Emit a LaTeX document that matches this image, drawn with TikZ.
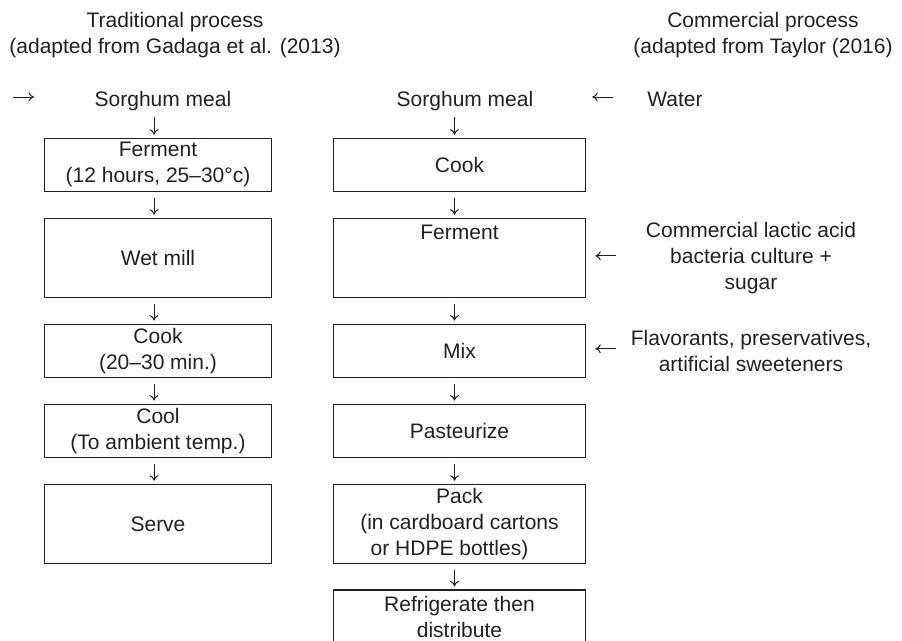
\documentclass[tikz,border=0pt]{standalone}
\usepackage{fontspec}
\setmainfont{Liberation Sans}
\usetikzlibrary{arrows.meta,calc}
\definecolor{ink}{RGB}{35,31,32}
\begin{document}
\begin{tikzpicture}[x=1pt,y=-1pt,
  every node/.style={font=\fontsize{21}{26}\selectfont, text=ink, inner sep=0pt, align=center},
  procbox/.style={draw=ink, line width=1.2pt, minimum height=53pt},
  tallbox/.style={procbox, minimum height=79pt},
  lcol/.style={minimum width=227.4pt},
  rcol/.style={minimum width=252.4pt},
  arr/.style={-{Computer Modern Rightarrow[length=5.5pt,width=9pt]}, line width=1pt, draw=ink}]
\useasboundingbox (0,0) rectangle (902,640);

% headers
\node (hdrL) at (175,35) {Traditional process\\(adapted from Gadaga et al. (2013)};
\node (hdrR) at (763,35) {Commercial process\\(adapted from Taylor (2016)};

% inputs
\node[anchor=base] (sorgL) at (163,106) {Sorghum meal};
\node[anchor=base] (sorgR) at (465,106) {Sorghum meal};
\node[anchor=base] (water) at (675,106) {Water};

% traditional column
\node[procbox,lcol] (fermL) at (158,164.8) {Ferment\\(12 hours, 25–30°c)};
\node[tallbox,lcol] (millL) at (158,257.8) {Wet mill};
\node[procbox,lcol] (cookL) at (158,350.7) {Cook\\(20–30 min.)};
\node[procbox,lcol] (coolL) at (158,430.7) {Cool\\(To ambient temp.)};
\node[tallbox,lcol] (serveL) at (158,523.8) {Serve};

% commercial column
\node[procbox,rcol] (cookR) at (459.5,164.8) {Cook};
\node[tallbox,rcol] (fermR) at (459.5,257.8) {Ferment\\~\\~};
\node[procbox,rcol] (mixR) at (459.5,350.7) {Mix};
\node[procbox,rcol] (pastR) at (459.5,430.7) {Pasteurize};
\node[tallbox,rcol] (packR) at (459.5,523.8) {Pack\\(in cardboard cartons\\or HDPE bottles)\hspace*{20pt}};
\node[procbox,rcol] (refrR) at (459.5,616.5) {Refrigerate then\\distribute};

% side inputs
\node (labF) at (751,257.8) {Commercial lactic acid\\bacteria culture +\\sugar};
\node (labM) at (751,350.7) {Flavorants, preservatives,\\artificial sweeteners};

% left free arrow
\coordinate (inL) at (13,97);
\coordinate (inLend) at (34,97);
\draw[arr] (inL) -- (inLend);

% traditional arrows
\draw[arr] ($(sorgL.base -| fermL.north)+(-4,11)$) -- ($(fermL.north)+(-4,-3)$);
\draw[arr] ($(fermL.south)+(-4,6)$) -- ($(millL.north)+(-4,-3)$);
\draw[arr] ($(millL.south)+(-4,6)$) -- ($(cookL.north)+(-4,-3)$);
\draw[arr] ($(cookL.south)+(-4,6)$) -- ($(coolL.north)+(-4,-3)$);
\draw[arr] ($(coolL.south)+(-4,6)$) -- ($(serveL.north)+(-4,-3)$);

% commercial arrows
\draw[arr] ($(sorgR.base -| cookR.north)+(-5,11)$) -- ($(cookR.north)+(-5,-3)$);
\draw[arr] ($(cookR.south)+(-5,6)$) -- ($(fermR.north)+(-5,-3)$);
\draw[arr] ($(fermR.south)+(-5,6)$) -- ($(mixR.north)+(-5,-3)$);
\draw[arr] ($(mixR.south)+(-5,6)$) -- ($(pastR.north)+(-5,-3)$);
\draw[arr] ($(pastR.south)+(-5,6)$) -- ($(packR.north)+(-5,-3)$);
\draw[arr] ($(packR.south)+(-5,6)$) -- ($(refrR.north)+(-5,-3)$);

% side arrows
\draw[arr] ($(cookR.east |- water.base)+(27,-9)$) -- ($(cookR.east |- water.base)+(6,-9)$);
\draw[arr] ($(fermR.east |- labF.west)+(30,-2)$) -- ($(fermR.east |- labF.west)+(9,-2)$);
\draw[arr] ($(mixR.east |- labM.west)+(30,-2)$) -- ($(mixR.east |- labM.west)+(9,-2)$);
\end{tikzpicture}
\end{document}
